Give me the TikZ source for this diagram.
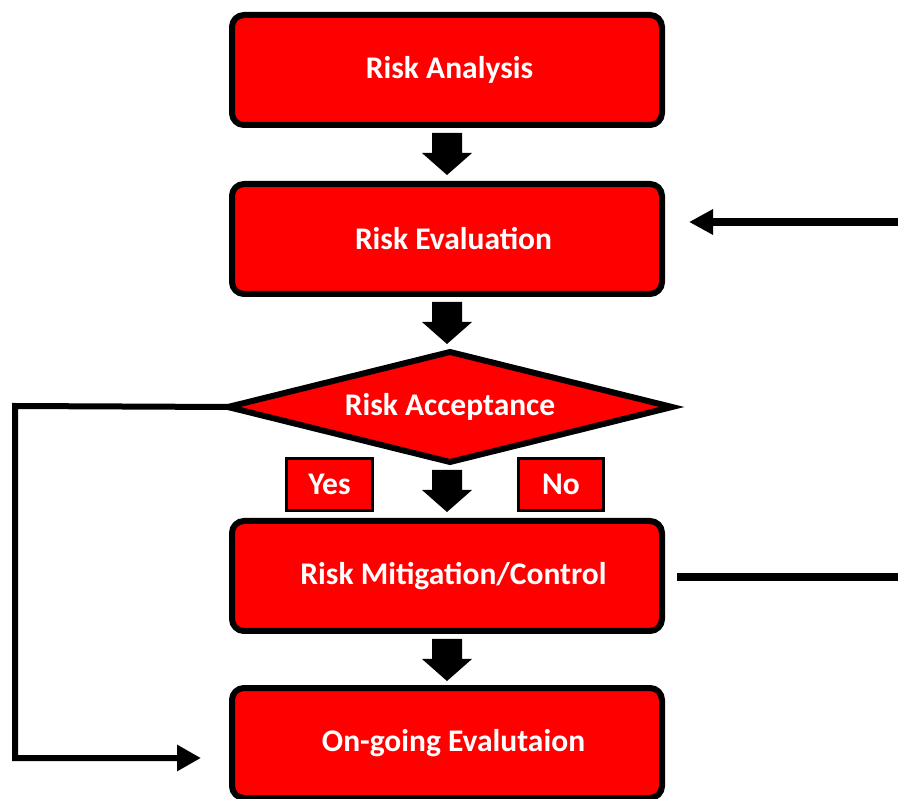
\documentclass[tikz,border=0pt]{standalone}
\usepackage{fontspec}
\setmainfont{Carlito}
\usetikzlibrary{shapes.geometric,arrows.meta}
\definecolor{boxred}{RGB}{255,0,0}
\tikzset{
  labelfont/.style={text=white, font=\fontsize{31.5}{36}\selectfont\bfseries},
  stepbox/.style={draw=black, fill=boxred, line width=6pt, rounded corners=12pt,
    minimum width=430pt, minimum height=110pt, inner sep=0pt, outer sep=0pt, labelfont},
  decision/.style={diamond, draw=black, fill=boxred, line width=6pt, aspect=4.05,
    minimum width=444pt, minimum height=110pt, inner sep=0pt, outer sep=0pt, labelfont},
  tagbox/.style={draw=black, fill=boxred, line width=3pt,
    minimum width=86pt, minimum height=52pt, inner sep=0pt, outer sep=0pt, labelfont},
  loopline/.style={line width=6pt, draw=black},
  downarrow/.pic={\fill[black] (-15,0) -- (15,0) -- (15,20) -- (25,20) -- (0,42) -- (-25,20) -- (-15,20) -- cycle;}
}
\newcommand{\nudge}{\hspace*{13pt}}
\begin{document}
\begin{tikzpicture}[x=1pt, y=-1pt]
\useasboundingbox[fill=white] (0,0) rectangle (898,799);
\node[stepbox] (ana) at (447,70) {\hspace*{5pt}Risk Analysis};
\node[stepbox] (eva) at (447,239) {\nudge Risk Evaluation};
\node[decision] (acc) at (450,407) {Risk Acceptance};
\node[tagbox] (yes) at (329.5,484.5) {Yes};
\node[tagbox, minimum width=85pt] (no) at (561,484.5) {No};
\node[stepbox] (mit) at (447,576) {\nudge Risk Mitigation/Control};
\node[stepbox] (ong) at (447,743) {\nudge On-going Evalutaion};

\pic at (447,133) {downarrow};
\pic at (447,302) {downarrow};
\pic at (447,470) {downarrow};
\pic at (447,639) {downarrow};

% loop on the left: acceptance -> on-going evaluation
\coordinate (lc1) at (15,406);
\coordinate (lc2) at (15,758);
\coordinate (lend) at (201,758);
\draw[loopline, line cap=rect, -{Triangle[length=24pt,width=25pt]}] (acc.west) -- (lc1) -- (lc2) -- (lend);

% loop on the right: mitigation -> evaluation (runs outside the picture)
\coordinate (rc1) at (960,577);
\coordinate (rc2) at (960,222);
\coordinate (rend) at (689,222);
\draw[line width=8pt, shorten <=15pt, -{Triangle[length=24pt,width=24pt]}] (mit.east |- rc1) -- (rc1) -- (rc2) -- (rend);
\end{tikzpicture}
\end{document}
